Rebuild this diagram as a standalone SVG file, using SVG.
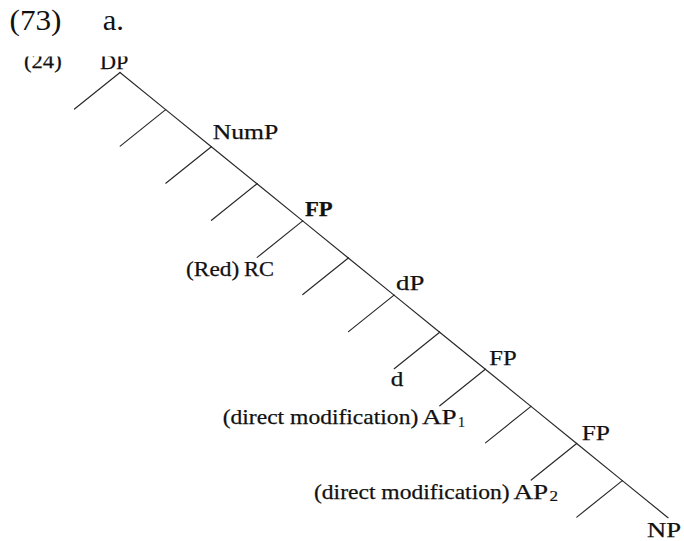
<svg xmlns="http://www.w3.org/2000/svg" width="684" height="541" viewBox="0 0 684 541">
  <style>
    .t { font-family: "Liberation Serif", "Times New Roman", serif; fill: #111; }
    .lab { font-size: 22px; stroke: #111; stroke-width: 0.25; }
    .big { font-size: 30px; }
    .sub { font-size: 15px; stroke: #111; stroke-width: 0.2; }
    .bold { font-weight: bold; }
    .edge { stroke: #2a2a2a; stroke-width: 1.2; fill: none; stroke-linecap: round; }
  </style>
  <defs>
    <clipPath id="topcut">
      <rect x="0" y="56.5" width="684" height="100"/>
    </clipPath>
  </defs>
  <rect width="684" height="541" fill="#ffffff"/>

  <g id="example-number">
    <text class="t big" x="9.5" y="29.5" textLength="52" lengthAdjust="spacingAndGlyphs">(73)</text>
    <text class="t big" x="102.7" y="29.5" textLength="21.3" lengthAdjust="spacingAndGlyphs">a.</text>
  </g>
  <g id="source-number" clip-path="url(#topcut)">
    <text class="t lab" x="24" y="67.5" textLength="37.7" lengthAdjust="spacingAndGlyphs">(24)</text>
  </g>

  <g id="connectors">
    <line class="edge" x1="120" y1="72.5" x2="165.67" y2="109.6"/>
    <line class="edge" x1="165.67" y1="109.6" x2="211.33" y2="146.7"/>
    <line class="edge" x1="211.33" y1="146.7" x2="257" y2="183.8"/>
    <line class="edge" x1="257" y1="183.8" x2="302.67" y2="220.9"/>
    <line class="edge" x1="302.67" y1="220.9" x2="348.33" y2="258"/>
    <line class="edge" x1="348.33" y1="258" x2="394" y2="295.1"/>
    <line class="edge" x1="394" y1="295.1" x2="439.67" y2="332.2"/>
    <line class="edge" x1="439.67" y1="332.2" x2="485.33" y2="369.3"/>
    <line class="edge" x1="485.33" y1="369.3" x2="531" y2="406.4"/>
    <line class="edge" x1="531" y1="406.4" x2="576.67" y2="443.5"/>
    <line class="edge" x1="576.67" y1="443.5" x2="622.33" y2="480.6"/>
    <line class="edge" x1="622.33" y1="480.6" x2="668" y2="517.7"/>

    <line class="edge" x1="120" y1="72.5" x2="74.5" y2="109"/>
    <line class="edge" x1="165.67" y1="109.6" x2="120.2" y2="146.1"/>
    <line class="edge" x1="211.33" y1="146.7" x2="165.8" y2="183.2"/>
    <line class="edge" x1="257" y1="183.8" x2="211.5" y2="220.3"/>
    <line class="edge" x1="302.67" y1="220.9" x2="257.2" y2="257.4"/>
    <line class="edge" x1="348.33" y1="258" x2="302.8" y2="294.5"/>
    <line class="edge" x1="394" y1="295.1" x2="348.5" y2="331.6"/>
    <line class="edge" x1="439.67" y1="332.2" x2="394.2" y2="368.7"/>
    <line class="edge" x1="485.33" y1="369.3" x2="439.8" y2="405.8"/>
    <line class="edge" x1="531" y1="406.4" x2="485.5" y2="442.9"/>
    <line class="edge" x1="576.67" y1="443.5" x2="531.2" y2="480"/>
    <line class="edge" x1="622.33" y1="480.6" x2="576.8" y2="517.1"/>
  </g>

  <g id="node-DP" clip-path="url(#topcut)">
    <text class="t lab" x="100" y="68.5" textLength="28.3" lengthAdjust="spacingAndGlyphs">DP</text>
  </g>
  <g id="node-NumP">
    <text class="t lab" x="212.7" y="139" textLength="65.6" lengthAdjust="spacingAndGlyphs">NumP</text>
  </g>
  <g id="node-FP-bold">
    <text class="t lab bold" x="305" y="216" textLength="27.7" lengthAdjust="spacingAndGlyphs">FP</text>
  </g>
  <g id="node-RedRC">
    <text class="t lab" x="186" y="276"><tspan textLength="53.3" lengthAdjust="spacingAndGlyphs">(Red)</tspan><tspan x="244" textLength="30" lengthAdjust="spacingAndGlyphs">RC</tspan></text>
  </g>
  <g id="node-dP">
    <text class="t lab" x="396" y="290" textLength="28.3" lengthAdjust="spacingAndGlyphs">dP</text>
  </g>
  <g id="node-d">
    <text class="t lab" x="390.7" y="386" textLength="12.6" lengthAdjust="spacingAndGlyphs">d</text>
  </g>
  <g id="node-FP-1">
    <text class="t lab" x="489.3" y="365" textLength="27.4" lengthAdjust="spacingAndGlyphs">FP</text>
  </g>
  <g id="node-AP1">
    <text class="t lab" x="222.7" y="424" textLength="195.6" lengthAdjust="spacingAndGlyphs">(direct modification)</text>
    <text class="t lab" x="422" y="424" textLength="34.7" lengthAdjust="spacingAndGlyphs">AP</text>
    <text class="t sub" x="458" y="426.5" textLength="7" lengthAdjust="spacingAndGlyphs">1</text>
  </g>
  <g id="node-FP-2">
    <text class="t lab" x="581.7" y="440" textLength="28.3" lengthAdjust="spacingAndGlyphs">FP</text>
  </g>
  <g id="node-AP2">
    <text class="t lab" x="314" y="498.5" textLength="195.6" lengthAdjust="spacingAndGlyphs">(direct modification)</text>
    <text class="t lab" x="513.5" y="498.5" textLength="34.7" lengthAdjust="spacingAndGlyphs">AP</text>
    <text class="t sub" x="549.5" y="501" textLength="8.5" lengthAdjust="spacingAndGlyphs">2</text>
  </g>
  <g id="node-NP">
    <text class="t lab" x="647" y="537" textLength="34" lengthAdjust="spacingAndGlyphs">NP</text>
  </g>
</svg>
